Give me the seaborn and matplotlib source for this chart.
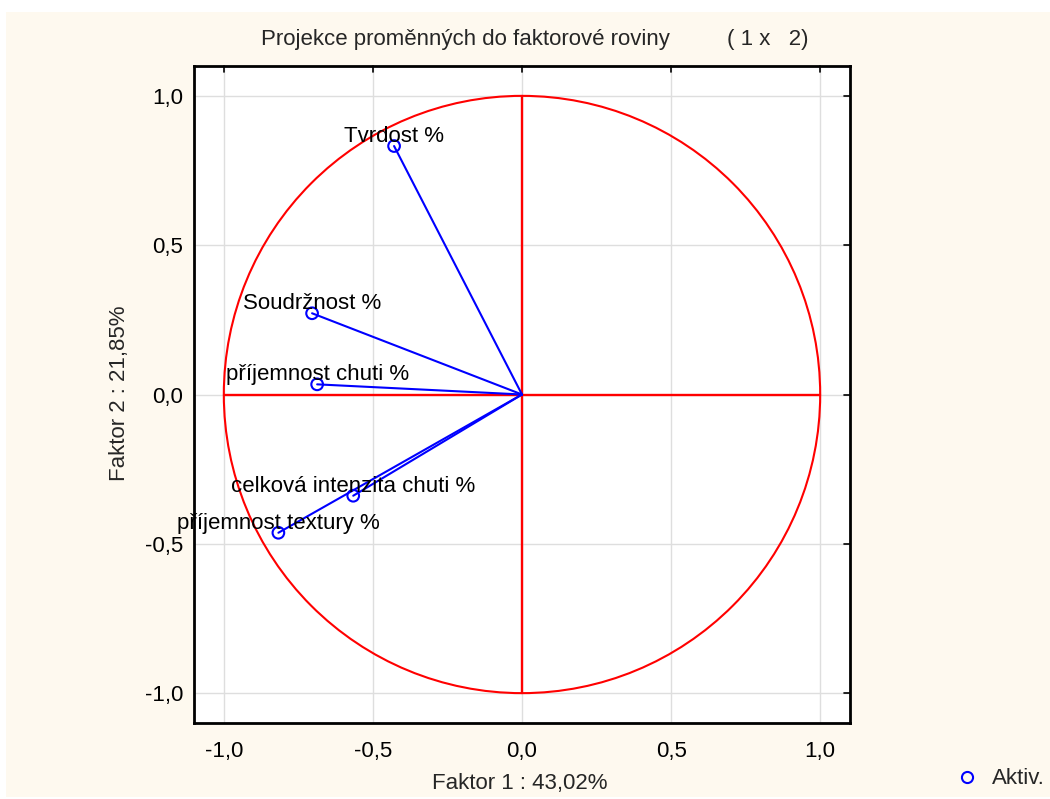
import matplotlib
matplotlib.use("Agg")
import matplotlib.pyplot as plt
import matplotlib.patches as mpatches
from matplotlib.lines import Line2D
import seaborn as sns
import pandas as pd

# Factor loadings of the variables on factors 1 and 2
variables = ["Tvrdost %", "Soudržnost %", "příjemnost chuti %",
             "celková intenzita chuti %", "příjemnost textury %"]
factor1 = [-0.429, -0.704, -0.687, -0.566, -0.817]
factor2 = [0.832, 0.272, 0.034, -0.339, -0.463]

tick_values = [-1.0, -0.5, 0.0, 0.5, 1.0]
tick_labels = ["-1,0", "-0,5", "0,0", "0,5", "1,0"]

title_text = "Projekce proměnných do faktorové roviny"
title_suffix = "( 1 x   2)"
xlabel_text = "Faktor 1 : 43,02%"
ylabel_text = "Faktor 2 : 21,85%"
legend_text = "Aktiv."

df = pd.DataFrame({"var": variables, "f1": factor1, "f2": factor2})

sns.set_theme(style="white")
plt.rcParams["font.family"] = ["Liberation Sans", "DejaVu Sans"]
FS = 16
BLUE = "#0000ff"
RED = "#ff0000"
CREAM = "#fef9ef"

W, H = 1050, 799
fig = plt.figure(figsize=(W / 100, H / 100), dpi=100, facecolor="white")
fig.patches.append(mpatches.Rectangle((6 / W, 2 / H), 1 - 6 / W, 1 - 14 / H,
                                      transform=fig.transFigure,
                                      facecolor=CREAM, edgecolor="none", zorder=-10))

left, right, top, bottom = 194, 850, 66, 723
ax = fig.add_axes([left / W, 1 - bottom / H, (right - left) / W, (bottom - top) / H])
ax.set_facecolor("white")
ax.set_xlim(-1.1, 1.1)
ax.set_ylim(-1.1, 1.1)

# grid at major ticks
for v in tick_values:
    ax.axvline(v, color="#dedede", lw=1.0, zorder=0)
    ax.axhline(v, color="#dedede", lw=1.0, zorder=0)

# unit circle and axes cross
ax.add_patch(mpatches.Circle((0, 0), 1.0, fill=False, ec=RED, lw=1.5, zorder=2))
ax.plot([-1, 1], [0, 0], color=RED, lw=1.7, zorder=2)
ax.plot([0, 0], [-1, 1], color=RED, lw=1.7, zorder=2)

# vectors from the origin
for x, y in zip(df["f1"], df["f2"]):
    ax.plot([0, x], [0, y], color=BLUE, lw=1.5, zorder=3)

sns.scatterplot(data=df, x="f1", y="f2", ax=ax, marker="o", s=70,
                facecolors="none", edgecolor=BLUE, linewidth=1.5, zorder=4,
                legend=False)

for name, x, y in zip(df["var"], df["f1"], df["f2"]):
    ax.annotate(name, (x, y), xytext=(0, 3), textcoords="offset points",
                ha="center", va="baseline", fontsize=FS, color="black", zorder=5)

ax.set_xlabel("")
ax.set_ylabel("")
ax.set_xticks(tick_values)
ax.set_xticklabels(tick_labels, fontsize=FS)
ax.set_yticks(tick_values)
ax.set_yticklabels(tick_labels, fontsize=FS)
ax.set_xticks([v / 10 for v in range(-10, 11)], minor=True)
ax.set_yticks([v / 10 for v in range(-10, 11)], minor=True)
ax.tick_params(which="major", direction="out", length=5, width=1.2, color="black",
               labelcolor="black")
ax.tick_params(axis="x", which="major", pad=8)
ax.tick_params(axis="y", which="major", pad=3)
ax.tick_params(which="minor", direction="in", length=4, width=1.0, color="black")

for s in ax.spines.values():
    s.set_color("black")
    s.set_linewidth(2.0)
    s.set_visible(True)

# inward major ticks on the top and right borders
for v in tick_values:
    ax.plot([v, v], [1.1, 1.1 - 0.02], color="black", lw=1.2, clip_on=False, zorder=6)
    ax.plot([1.1, 1.1 - 0.02], [v, v], color="black", lw=1.2, clip_on=False, zorder=6)
ax.tick_params(which="both", top=False, right=False)

fig.text(465 / W, 1 - 40 / H, title_text, ha="center", va="center", fontsize=FS)
fig.text(768 / W, 1 - 40 / H, title_suffix, ha="center", va="center", fontsize=FS)
fig.text(520 / W, 1 - 784 / H, xlabel_text, ha="center", va="center", fontsize=FS)
fig.text(120 / W, 1 - 393 / H, ylabel_text, ha="center", va="center",
         rotation=90, fontsize=FS)

handle = Line2D([], [], marker="o", linestyle="none", markerfacecolor="none",
                markeredgecolor=BLUE, markeredgewidth=1.5, markersize=8)
fig.legend([handle], [legend_text], loc="center left",
           bbox_to_anchor=(954 / W, 1 - 779 / H), frameon=False, fontsize=FS,
           handletextpad=0.5, handlelength=1.2, borderpad=0, borderaxespad=0)

fig.savefig("out.png", dpi=100, facecolor=fig.get_facecolor())
